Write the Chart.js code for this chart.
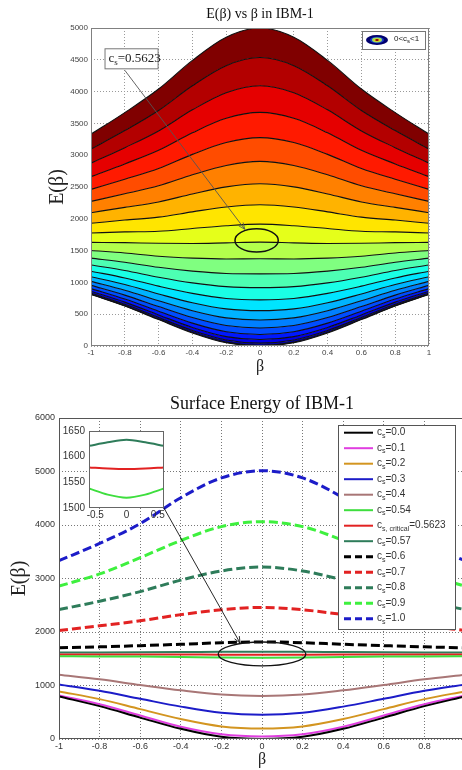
<!DOCTYPE html>
<html>
<head>
<meta charset="utf-8">
<script src="https://cdn.jsdelivr.net/npm/chart.js@4"></script>
<style>
  html, body { margin: 0; padding: 0; background: #fff; }
  #page { position: relative; width: 462px; height: 770px; overflow: hidden; background: #fff; }
  .box { position: absolute; }
</style>
</head>
<body>
<div id="page">
  <div class="box" style="left:0;top:0;width:462px;height:375px"><canvas id="contourChart"></canvas></div>
  <div class="box" style="left:0;top:380px;width:480px;height:390px"><canvas id="surfaceChart"></canvas></div>
  <div class="box" style="left:50px;top:420px;width:120px;height:110px"><canvas id="insetChart"></canvas></div>
</div>
<script>
// beta grid and tick labels
const beta = [-1, -0.8, -0.6, -0.4, -0.2, 0, 0.2, 0.4, 0.6, 0.8, 1];
const xTicks = [-1, -0.8, -0.6, -0.4, -0.2, 0, 0.2, 0.4, 0.6, 0.8, 1];
const contourYTicks = [0, 500, 1000, 1500, 2000, 2500, 3000, 3500, 4000, 4500, 5000];
const surfaceYTicks = [0, 1000, 2000, 3000, 4000, 5000, 6000];
const insetXTicks = [-0.5, 0, 0.5];
const insetYTicks = [1500, 1550, 1600, 1650];

// top panel: contour lines for c_s = 0 ... 1 (22 levels)
const contourLines = [
  [810, 628, 415, 205, 50, 0, 50, 205, 415, 628, 810],
  [816, 635, 423, 215, 61, 11, 61, 215, 423, 635, 816],
  [833, 656, 448, 244, 94, 45, 94, 244, 448, 656, 833],
  [861, 690, 489, 292, 148, 102, 148, 292, 489, 690, 861],
  [902, 738, 547, 360, 224, 181, 224, 360, 547, 738, 902],
  [953, 800, 621, 448, 322, 283, 322, 448, 621, 800, 953],
  [1016, 876, 711, 555, 442, 408, 442, 555, 711, 876, 1016],
  [1090, 966, 818, 681, 584, 556, 584, 681, 818, 966, 1090],
  [1176, 1070, 941, 827, 747, 726, 747, 827, 941, 1070, 1176],
  [1273, 1187, 1081, 992, 933, 918, 933, 992, 1081, 1187, 1273],
  [1382, 1318, 1237, 1177, 1140, 1134, 1140, 1177, 1237, 1318, 1382],
  [1502, 1463, 1410, 1381, 1368, 1372, 1368, 1381, 1410, 1463, 1502],
  [1630, 1625, 1615, 1612, 1622, 1633, 1622, 1612, 1615, 1625, 1630],
  [1776, 1794, 1804, 1847, 1891, 1916, 1891, 1847, 1804, 1794, 1776],
  [1930, 1980, 2026, 2109, 2186, 2222, 2186, 2109, 2026, 1980, 1930],
  [2096, 2180, 2265, 2391, 2502, 2551, 2502, 2391, 2265, 2180, 2096],
  [2273, 2394, 2519, 2692, 2839, 2903, 2839, 2692, 2519, 2394, 2273],
  [2462, 2622, 2791, 3013, 3199, 3277, 3199, 3013, 2791, 2622, 2462],
  [2662, 2863, 3078, 3353, 3580, 3673, 3580, 3353, 3078, 2863, 2662],
  [2874, 3118, 3382, 3713, 3983, 4093, 3983, 3713, 3382, 3118, 2874],
  [3097, 3387, 3703, 4092, 4408, 4535, 4408, 4092, 3703, 3387, 3097],
  [3331, 3670, 4040, 4490, 4855, 5000, 4855, 4490, 4040, 3670, 3331]
];

// bottom panel: one curve per c_s
const surfaceCs = ['0.0', '0.1', '0.2', '0.3', '0.4', '0.54', '0.5623', '0.57', '0.6', '0.7', '0.8', '0.9', '1.0'];
const cs00 = [795, 615, 400, 190, 40, 0, 40, 190, 400, 615, 795];
const cs01 = [815, 650, 440, 228, 88, 48, 88, 228, 440, 650, 815];
const cs02 = [890, 745, 558, 373, 235, 195, 235, 373, 558, 745, 890];
const cs03 = [1020, 900, 752, 605, 490, 453, 490, 605, 752, 900, 1020];
const cs04 = [1202, 1115, 1010, 910, 830, 805, 830, 910, 1010, 1115, 1202];
const cs054 = [1546, 1544, 1540, 1533, 1524, 1520, 1524, 1533, 1540, 1544, 1546];
const csCritical = [1581, 1580, 1579, 1578, 1577, 1576, 1577, 1578, 1579, 1580, 1581];
const cs057 = [1619, 1618, 1620, 1624, 1630, 1633, 1630, 1624, 1620, 1618, 1619];
const cs06 = [1705, 1722, 1745, 1770, 1800, 1815, 1800, 1770, 1745, 1722, 1705];
const cs07 = [2030, 2115, 2210, 2325, 2415, 2460, 2415, 2325, 2210, 2115, 2030];
const cs08 = [2418, 2575, 2755, 2970, 3140, 3215, 3140, 2970, 2755, 2575, 2418];
const cs09 = [2858, 3085, 3390, 3710, 3970, 4062, 3970, 3710, 3390, 3085, 2858];
const cs10 = [3333, 3655, 4025, 4510, 4880, 5015, 4880, 4510, 4025, 3655, 3333];

// zoomed inset near the critical value
const insetBeta = [-0.6, -0.3, 0, 0.3, 0.6];
const inset057 = [1621, 1628, 1633, 1628, 1621];
const insetCritical = [1579, 1577, 1576, 1577, 1579];
const inset054 = [1538, 1526, 1520, 1526, 1538];

const SERIF = 'Liberation Serif';
const SANS = 'Liberation Sans';

function jet(v) {
  const c = t => Math.round(255 * Math.max(0, Math.min(1, t)));
  return 'rgb(' + c(Math.min(4 * v - 1.5, -4 * v + 4.5)) + ',' +
    c(Math.min(4 * v - 0.5, -4 * v + 3.5)) + ',' +
    c(Math.min(4 * v + 0.5, -4 * v + 2.5)) + ')';
}

function pts(xs, ys) {
  return xs.map((x, i) => ({ x: x, y: ys[i] }));
}

function tickList(values) {
  return s => { s.ticks = values.map(v => ({ value: v })); };
}

// text runs, a run marked sub is drawn smaller and lower
function drawRuns(ctx, x, y, runs, size, family) {
  ctx.textBaseline = 'middle';
  ctx.textAlign = 'left';
  runs.forEach(r => {
    const sub = r[1];
    const s = sub ? Math.round(size * 0.7) : size;
    ctx.font = s + 'px "' + family + '"';
    ctx.fillText(r[0], x, sub ? y + size * 0.32 : y);
    x += ctx.measureText(r[0]).width;
  });
}

function drawArrow(ctx, x1, y1, x2, y2, head) {
  ctx.beginPath();
  ctx.moveTo(x1, y1);
  ctx.lineTo(x2, y2);
  ctx.stroke();
  const ang = Math.atan2(y2 - y1, x2 - x1);
  ctx.beginPath();
  ctx.moveTo(x2 - head * Math.cos(ang - 0.4), y2 - head * Math.sin(ang - 0.4));
  ctx.lineTo(x2, y2);
  ctx.lineTo(x2 - head * Math.cos(ang + 0.4), y2 - head * Math.sin(ang + 0.4));
  ctx.stroke();
}

function ellipseAt(ctx, x, y, cx, cy, hw, hh) {
  const px = x.getPixelForValue(cx), py = y.getPixelForValue(cy);
  const rx = x.getPixelForValue(cx + hw) - px;
  const ry = py - y.getPixelForValue(cy + hh);
  ctx.beginPath();
  ctx.ellipse(px, py, rx, ry, 0, 0, Math.PI * 2);
  ctx.stroke();
}

function axisStyle(extra) {
  return Object.assign({
    type: 'linear',
    grid: { color: '#9a9a9a', lineWidth: 1, drawTicks: false },
    border: { display: false, dash: [1, 2] }
  }, extra);
}

// ---------- top panel ----------
const contourDecor = {
  id: 'contourDecor',
  afterDraw(chart) {
    const { ctx, chartArea: a, scales: { x, y } } = chart;
    ctx.save();
    ctx.strokeStyle = '#808080';
    ctx.lineWidth = 1;
    ctx.strokeRect(a.left + 0.5, a.top + 0.5, a.right - a.left - 1, a.bottom - a.top - 1);

    // circled critical line
    ctx.strokeStyle = '#111';
    ctx.lineWidth = 1.5;
    ellipseAt(ctx, x, y, -0.02, 1660, 0.128, 183);

    // arrow from the text box
    ctx.strokeStyle = '#555';
    ctx.lineWidth = 0.9;
    drawArrow(ctx, x.getPixelForValue(-0.8), y.getPixelForValue(4335),
      x.getPixelForValue(-0.09), y.getPixelForValue(1835), 7);

    // text box
    const bx = x.getPixelForValue(-0.92), by = y.getPixelForValue(4681);
    const bw = x.getPixelForValue(-0.606) - bx, bh = y.getPixelForValue(4366) - by;
    ctx.fillStyle = '#fff';
    ctx.fillRect(bx, by, bw, bh);
    ctx.strokeStyle = '#777';
    ctx.lineWidth = 1;
    ctx.strokeRect(bx + 0.5, by + 0.5, bw, bh);
    ctx.fillStyle = '#222';
    drawRuns(ctx, bx + 4, by + bh / 2, [['c'], ['s', true], ['=0.5623']], 13, SERIF);

    // legend
    const lx = 362, ly = 31, lw = 63, lh = 18;
    ctx.fillStyle = '#fff';
    ctx.fillRect(lx, ly, lw, lh);
    ctx.strokeStyle = '#777';
    ctx.strokeRect(lx + 0.5, ly + 0.5, lw, lh);
    const ex = 377, ey = 40;
    [[11, 5, '#00006e'], [7, 3.3, '#1a3cc8'], [5, 2.4, '#9be05a'], [3.2, 1.6, '#e8d020'], [1.8, 1, '#8a0000']]
      .forEach(e => {
        ctx.fillStyle = e[2];
        ctx.beginPath();
        ctx.ellipse(ex, ey, e[0], e[1], 0, 0, Math.PI * 2);
        ctx.fill();
      });
    ctx.fillStyle = '#222';
    drawRuns(ctx, 394, 38.5, [['0<c'], ['s', true], ['<1']], 8, SANS);
    ctx.restore();
  }
};

new Chart(document.getElementById('contourChart'), {
  type: 'line',
  data: {
    datasets: contourLines.map((vals, k) => ({
      label: 'c_s=' + (k / 21).toFixed(3),
      data: pts(beta, vals),
      borderColor: '#111',
      borderWidth: 1.1,
      pointRadius: 0,
      cubicInterpolationMode: 'monotone',
      fill: k === 0 ? false : '-1',
      backgroundColor: jet((k - 1) / 20)
    }))
  },
  options: {
    responsive: true,
    maintainAspectRatio: false,
    animation: false,
    layout: { padding: { left: 0, right: 33, top: 0, bottom: 0 } },
    plugins: {
      legend: { display: false },
      tooltip: { enabled: false },
      filler: { drawTime: 'beforeDatasetsDraw' },
      title: {
        display: true,
        text: 'E(β) vs β in IBM-1',
        fullSize: false,
        color: '#111',
        font: { family: SERIF, size: 14, weight: 'normal', lineHeight: 1 },
        padding: { top: 7, bottom: 7 }
      }
    },
    scales: {
      x: axisStyle({
        min: -1, max: 1,
        afterBuildTicks: tickList(xTicks),
        afterFit: s => { s.height = 29; },
        ticks: { font: { family: SANS, size: 8 }, color: '#444', padding: 2, maxRotation: 0, callback: v => String(v) },
        title: { display: true, text: 'β', color: '#222', font: { family: SERIF, size: 16, lineHeight: 1 }, padding: { top: 0, bottom: 0 } }
      }),
      y: axisStyle({
        min: 0, max: 5000,
        afterBuildTicks: tickList(contourYTicks),
        afterFit: s => { s.width = 91; },
        ticks: { font: { family: SANS, size: 8 }, color: '#444', padding: 3, callback: v => String(v) },
        title: { display: true, text: 'E(β)', color: '#222', font: { family: SERIF, size: 20, lineHeight: 1 }, padding: { top: 48, bottom: 0 } }
      })
    }
  },
  plugins: [contourDecor]
});

// ---------- bottom panel ----------
const surfaceSeries = [cs00, cs01, cs02, cs03, cs04, cs054, csCritical, cs057, cs06, cs07, cs08, cs09, cs10];
const surfaceColors = ['#000000', '#e03ee0', '#d39520', '#1c1cc8', '#a87676', '#3ede3e', '#e22222',
  '#2e7c5a', '#000000', '#e22222', '#2e7c5a', '#3ef03e', '#1c1cc8'];
const surfaceDashed = [false, false, false, false, false, false, false, false, true, true, true, true, true];

const surfaceDecor = {
  id: 'surfaceDecor',
  afterDraw(chart) {
    const { ctx, chartArea: a, scales: { x, y } } = chart;
    ctx.save();
    ctx.strokeStyle = '#555';
    ctx.lineWidth = 1;
    ctx.strokeRect(a.left + 0.5, a.top + 0.5, a.right - a.left - 1, a.bottom - a.top - 1);

    ctx.strokeStyle = '#111';
    ctx.lineWidth = 1.3;
    ellipseAt(ctx, x, y, 0, 1589, 0.216, 224);

    ctx.lineWidth = 0.9;
    drawArrow(ctx, x.getPixelForValue(-0.483), y.getPixelForValue(4318),
      x.getPixelForValue(-0.108), y.getPixelForValue(1794), 7);

    // legend
    const lx = 338, ly = 45, lw = 117, lh = 204;
    ctx.fillStyle = '#fff';
    ctx.fillRect(lx, ly, lw, lh);
    ctx.strokeStyle = '#555';
    ctx.lineWidth = 1;
    ctx.strokeRect(lx + 0.5, ly + 0.5, lw, lh);
    surfaceCs.forEach((cs, i) => {
      const ry = 52.7 + i * 15.5;
      ctx.strokeStyle = surfaceColors[i];
      ctx.lineWidth = surfaceDashed[i] ? 3 : 2;
      ctx.setLineDash(surfaceDashed[i] ? [7, 4] : []);
      ctx.beginPath();
      ctx.moveTo(344, ry);
      ctx.lineTo(373, ry);
      ctx.stroke();
      ctx.setLineDash([]);
      ctx.fillStyle = '#333';
      const sub = cs === '0.5623' ? 's, critical' : 's';
      drawRuns(ctx, 377, ry, [['c'], [sub, true], ['=' + cs]], 10, SANS);
    });
    ctx.restore();
  }
};

new Chart(document.getElementById('surfaceChart'), {
  type: 'line',
  data: {
    datasets: surfaceSeries.map((vals, i) => ({
      label: 'c_s=' + surfaceCs[i],
      data: pts(beta, vals),
      borderColor: surfaceColors[i],
      borderWidth: surfaceDashed[i] ? 3 : 2,
      borderDash: surfaceDashed[i] ? [9, 4] : [],
      pointRadius: 0,
      cubicInterpolationMode: 'monotone',
      fill: false
    }))
  },
  options: {
    responsive: true,
    maintainAspectRatio: false,
    animation: false,
    layout: { padding: { left: 0, right: 15, top: 0, bottom: 0 } },
    plugins: {
      legend: { display: false },
      tooltip: { enabled: false },
      title: {
        display: true,
        text: 'Surface Energy of IBM-1',
        fullSize: false,
        color: '#111',
        font: { family: SERIF, size: 18, weight: 'normal', lineHeight: 1 },
        padding: { top: 15, bottom: 5 }
      }
    },
    scales: {
      x: axisStyle({
        min: -1, max: 1,
        afterBuildTicks: tickList(xTicks),
        afterFit: s => { s.height = 31; },
        ticks: { font: { family: SANS, size: 9 }, color: '#333', padding: 2, maxRotation: 0, callback: v => String(v) },
        grid: { color: '#777', lineWidth: 1, drawTicks: false },
        title: { display: true, text: 'β', color: '#222', font: { family: SERIF, size: 16, lineHeight: 1 }, padding: { top: 0, bottom: 2 } }
      }),
      y: axisStyle({
        min: 0, max: 6000,
        afterBuildTicks: tickList(surfaceYTicks),
        afterFit: s => { s.width = 59; },
        ticks: { font: { family: SANS, size: 9 }, color: '#333', padding: 4, callback: v => String(v) },
        grid: { color: '#777', lineWidth: 1, drawTicks: false },
        title: { display: true, text: 'E(β)', color: '#222', font: { family: SERIF, size: 20, lineHeight: 1 }, padding: { top: 10, bottom: 0 } }
      })
    }
  },
  plugins: [surfaceDecor]
});

// ---------- inset ----------
const insetFrame = {
  id: 'insetFrame',
  beforeDraw(chart) {
    const { ctx, chartArea: a } = chart;
    ctx.save();
    ctx.fillStyle = '#fff';
    ctx.fillRect(a.left, a.top, a.right - a.left, a.bottom - a.top);
    ctx.restore();
  },
  afterDraw(chart) {
    const { ctx, chartArea: a } = chart;
    ctx.save();
    ctx.strokeStyle = '#666';
    ctx.lineWidth = 1;
    ctx.strokeRect(a.left + 0.5, a.top + 0.5, a.right - a.left - 1, a.bottom - a.top - 1);
    ctx.restore();
  }
};

new Chart(document.getElementById('insetChart'), {
  type: 'line',
  data: {
    datasets: [
      { label: 'c_s=0.57', data: pts(insetBeta, inset057), borderColor: '#2e7c5a' },
      { label: 'c_s,critical=0.5623', data: pts(insetBeta, insetCritical), borderColor: '#e22222' },
      { label: 'c_s=0.54', data: pts(insetBeta, inset054), borderColor: '#3ede3e' }
    ].map(d => Object.assign(d, { borderWidth: 2, pointRadius: 0, cubicInterpolationMode: 'monotone', fill: false }))
  },
  options: {
    responsive: true,
    maintainAspectRatio: false,
    animation: false,
    layout: { padding: { left: 0, right: 6, top: 11, bottom: 0 } },
    plugins: { legend: { display: false }, tooltip: { enabled: false }, title: { display: false } },
    scales: {
      x: {
        type: 'linear', min: -0.6, max: 0.6,
        afterBuildTicks: tickList(insetXTicks),
        afterFit: s => { s.height = 22; },
        grid: { display: false, drawTicks: false },
        border: { display: false },
        ticks: { font: { family: SANS, size: 10 }, color: '#333', padding: 1, maxRotation: 0, callback: v => String(v) }
      },
      y: {
        type: 'linear', min: 1500, max: 1650,
        afterBuildTicks: tickList(insetYTicks),
        afterFit: s => { s.width = 39; },
        grid: { display: false, drawTicks: false },
        border: { display: false },
        ticks: { font: { family: SANS, size: 10 }, color: '#333', padding: 4, callback: v => String(v) }
      }
    }
  },
  plugins: [insetFrame]
});
</script>
</body>
</html>
